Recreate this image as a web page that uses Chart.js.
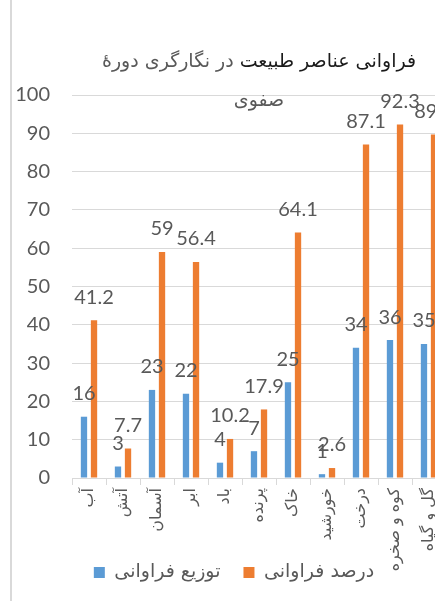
<!DOCTYPE html>
<html>
<head>
<meta charset="utf-8">
<script src="https://cdn.jsdelivr.net/npm/chart.js@4.4.0/dist/chart.umd.min.js"></script>
<style>
  html, body { margin: 0; padding: 0; background: #fff; overflow: hidden; }
  body { width: 435px; height: 601px; position: relative; }
  #frame { position: absolute; left: 10px; top: 0; width: 2px; height: 601px; background: #d9d9d9; }
  #wrap { position: absolute; left: 12px; top: 0; width: 450px; height: 601px; }
</style>
</head>
<body>
<div id="frame"></div>
<div id="wrap"><canvas id="chart" width="450" height="601"></canvas></div>
<script>
// Chart data
const categories = ['آب', 'آتش', 'آسمان', 'ابر', 'باد', 'پرنده', 'خاک', 'خورشید', 'درخت', 'کوه و صخره', 'گل و گیاه'];
const frequency = [16, 3, 23, 22, 4, 7, 25, 1, 34, 36, 35];
const percent = [41.2, 7.7, 59, 56.4, 10.2, 17.9, 64.1, 2.6, 87.1, 92.3, 89.7];
const yTicks = [0, 10, 20, 30, 40, 50, 60, 70, 80, 90, 100];
const seriesNames = ['توزیع فراوانی', 'درصد فراوانی'];
const titleBold = 'فراوانی عناصر طبیعت';
const titleRest = 'در نگارگری دورهٔ';
const titleLine2 = 'صفوی';

const GREY = '#595959';
const GRID = '#d9d9d9';
const FA_FONT = '"DejaVu Sans"';
const NUM_FONT = 'Lato, "DejaVu Sans"';

// Title with two colours, centred over the plot area
const titlePlugin = {
    id: 'mixedTitle',
    afterDraw(chart) {
        const ctx = chart.ctx;
        const area = chart.chartArea;
        const cx = (area.left + area.right) / 2;
        ctx.save();
        ctx.font = '19px ' + FA_FONT;
        ctx.textBaseline = 'middle';
        ctx.direction = 'rtl';
        ctx.textAlign = 'right';
        const w1 = ctx.measureText(titleBold + ' ').width;
        const w2 = ctx.measureText(titleRest).width;
        const right = cx + (w1 + w2) / 2;
        ctx.fillStyle = '#1a1a1a';
        ctx.fillText(titleBold, right, 62);
        ctx.fillStyle = GREY;
        ctx.fillText(titleRest, right - w1, 62);
        ctx.textAlign = 'center';
        ctx.fillText(titleLine2, cx, 101);
        ctx.restore();
    }
};

// Value labels above each bar
const valueLabels = {
    id: 'valueLabels',
    afterDatasetsDraw(chart) {
        const ctx = chart.ctx;
        ctx.save();
        ctx.font = '20px ' + NUM_FONT;
        ctx.fillStyle = GREY;
        ctx.textAlign = 'center';
        ctx.textBaseline = 'middle';
        chart.data.datasets.forEach((ds, i) => {
            chart.getDatasetMeta(i).data.forEach((bar, j) => {
                ctx.fillText(String(ds.data[j]), bar.x, bar.y - 23);
            });
        });
        ctx.restore();
    }
};

// tick labels may spill out of their axis box, as in the original
function noLabelClip(scale) {
    scale._computeLabelArea = () => undefined;
}

const ctx = document.getElementById('chart').getContext('2d');

new Chart(ctx, {
    type: 'bar',
    data: {
        labels: categories,
        datasets: [
            {
                label: seriesNames[0],
                data: frequency,
                backgroundColor: '#5b9bd5',
                categoryPercentage: 0.59,
                barPercentage: 0.63
            },
            {
                label: seriesNames[1],
                data: percent,
                backgroundColor: '#ed7d31',
                categoryPercentage: 0.59,
                barPercentage: 0.63
            }
        ]
    },
    options: {
        responsive: false,
        animation: false,
        layout: {
            padding: { top: 95, left: 10, right: 16, bottom: 9 }
        },
        plugins: {
            title: { display: false },
            tooltip: { enabled: false },
            legend: {
                position: 'bottom',
                labels: {
                    boxWidth: 11,
                    boxHeight: 11,
                    padding: 23,
                    color: GREY,
                    font: { family: FA_FONT, size: 19 }
                }
            }
        },
        scales: {
            x: {
                grid: {
                    drawOnChartArea: false,
                    drawTicks: true,
                    tickLength: 7,
                    color: GRID
                },
                border: { color: GRID },
                ticks: {
                    color: GREY,
                    font: { family: FA_FONT, size: 16 },
                    minRotation: 90,
                    maxRotation: 90,
                    autoSkip: false,
                    padding: 3
                },
                afterFit(scale) { scale.height = 62; noLabelClip(scale); }
            },
            y: {
                min: yTicks[0],
                max: yTicks[yTicks.length - 1],
                afterBuildTicks(scale) { scale.ticks = yTicks.map(v => ({ value: v })); },
                grid: { color: GRID, drawTicks: false },
                border: { display: false },
                ticks: {
                    color: GREY,
                    font: { family: NUM_FONT, size: 20 },
                    padding: 22
                },
                afterFit(scale) { scale.width = 50; noLabelClip(scale); }
            }
        }
    },
    plugins: [titlePlugin, valueLabels]
});
</script>
</body>
</html>
